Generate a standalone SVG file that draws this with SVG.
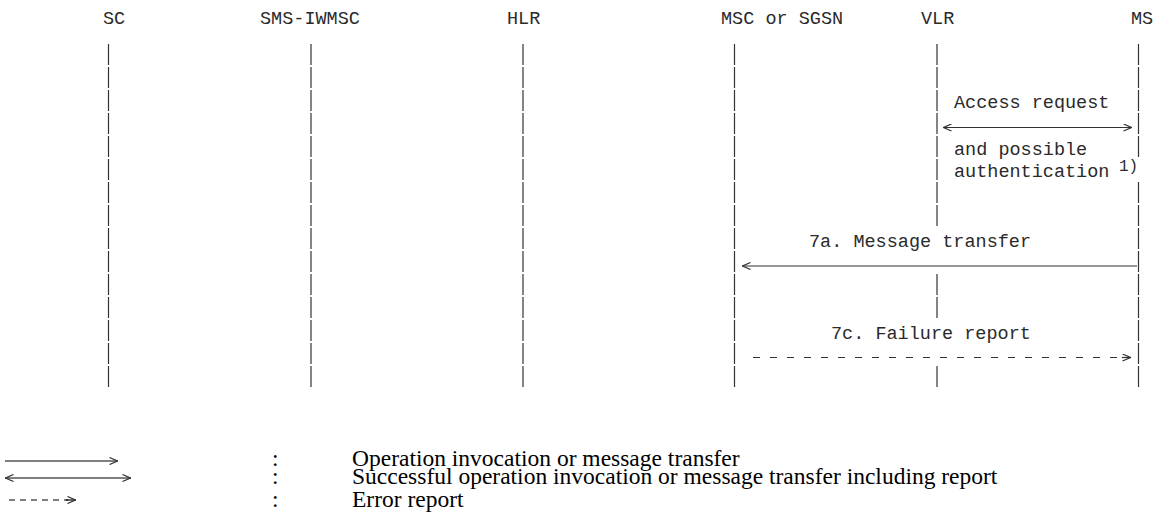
<svg xmlns="http://www.w3.org/2000/svg" width="1156" height="523" viewBox="0 0 1156 523">
<style>
.hdr{font-family:"Liberation Mono","DejaVu Sans Mono",monospace;font-size:18.5px;fill:#2a2a2a}
.lbl{font-family:"Liberation Mono","DejaVu Sans Mono",monospace;font-size:18.5px;fill:#2a2a2a}
.sup{font-family:"Liberation Mono","DejaVu Sans Mono",monospace;font-size:16px;fill:#2a2a2a}
.life{stroke:#333;stroke-width:1.2;stroke-dasharray:21 2;fill:none}
.arr{stroke:#333;stroke-width:1.2;fill:none}
.dash{stroke:#333;stroke-width:1.2;fill:none;stroke-dasharray:7 10}
.leg{font-family:"Liberation Serif","Times New Roman",serif;font-size:23.5px;fill:#000}
.legl{stroke:#000;stroke-width:1.2;fill:none}
</style>
<defs>
<marker id="ah" viewBox="0 0 9 8" markerWidth="9" markerHeight="8" refX="9" refY="4" orient="auto-start-reverse" markerUnits="userSpaceOnUse">
<path d="M0.5,0.5 L8.5,4 L0.5,7.5" fill="none" stroke="#333" stroke-width="1.2"/>
</marker>
</defs>
<rect width="1156" height="523" fill="#fff"/>
<g id="sc">
<text class="hdr" x="103" y="24">SC</text>
<line class="life" x1="108.5" y1="44" x2="108.5" y2="387"/>
</g>
<g id="sms-iwmsc">
<text class="hdr" x="260" y="24">SMS-IWMSC</text>
<line class="life" x1="311" y1="44" x2="311" y2="387"/>
</g>
<g id="hlr">
<text class="hdr" x="507" y="24">HLR</text>
<line class="life" x1="523" y1="44" x2="523" y2="387"/>
</g>
<g id="msc">
<text class="hdr" x="721" y="24">MSC or SGSN</text>
<line class="life" x1="734.5" y1="44" x2="734.5" y2="387"/>
</g>
<g id="vlr">
<text class="hdr" x="921" y="24">VLR</text>
<line class="life" x1="937" y1="44" x2="937" y2="226"/>
<line class="life" x1="937" y1="274" x2="937" y2="318"/>
<line class="life" x1="937" y1="366" x2="937" y2="387"/>
</g>
<g id="ms">
<text class="hdr" x="1131" y="24">MS</text>
<line class="life" x1="1138.5" y1="44" x2="1138.5" y2="157"/>
<line class="life" x1="1138.5" y1="182" x2="1138.5" y2="387"/>
</g>
<g id="connectors">
<line class="arr" x1="943" y1="127.5" x2="1132" y2="127.5" marker-start="url(#ah)" marker-end="url(#ah)"/>
<line class="arr" x1="1137" y1="266" x2="742" y2="266" marker-end="url(#ah)"/>
<line class="dash" x1="753" y1="357.5" x2="1124" y2="357.5"/>
<line class="arr" x1="1122" y1="357.5" x2="1131" y2="357.5" marker-end="url(#ah)"/>
</g>
<g id="labels">
<text class="lbl" x="954" y="108">Access request</text>
<text class="lbl" x="954" y="155">and possible</text>
<text class="lbl" x="954" y="177">authentication</text>
<text class="sup" x="1119" y="171">1)</text>
<text class="lbl" x="809" y="247">7a. Message transfer</text>
<text class="lbl" x="831" y="339">7c. Failure report</text>
</g>
<g id="legend">
<line class="legl" x1="5" y1="461" x2="118" y2="461" marker-end="url(#ah)"/>
<text class="leg" x="272" y="466">:</text>
<text class="leg" x="352" y="466">Operation invocation or message transfer</text>
<line class="legl" x1="5" y1="478" x2="131" y2="478" marker-start="url(#ah)" marker-end="url(#ah)"/>
<text class="leg" x="272" y="484">:</text>
<text class="leg" x="352" y="484">Successful operation invocation or message transfer including report</text>
<line class="legl" x1="9" y1="500" x2="68" y2="500" stroke-dasharray="6 5"/>
<line class="legl" x1="66" y1="500" x2="76" y2="500" marker-end="url(#ah)"/>
<text class="leg" x="272" y="507">:</text>
<text class="leg" x="352" y="507">Error report</text>
</g>
</svg>
